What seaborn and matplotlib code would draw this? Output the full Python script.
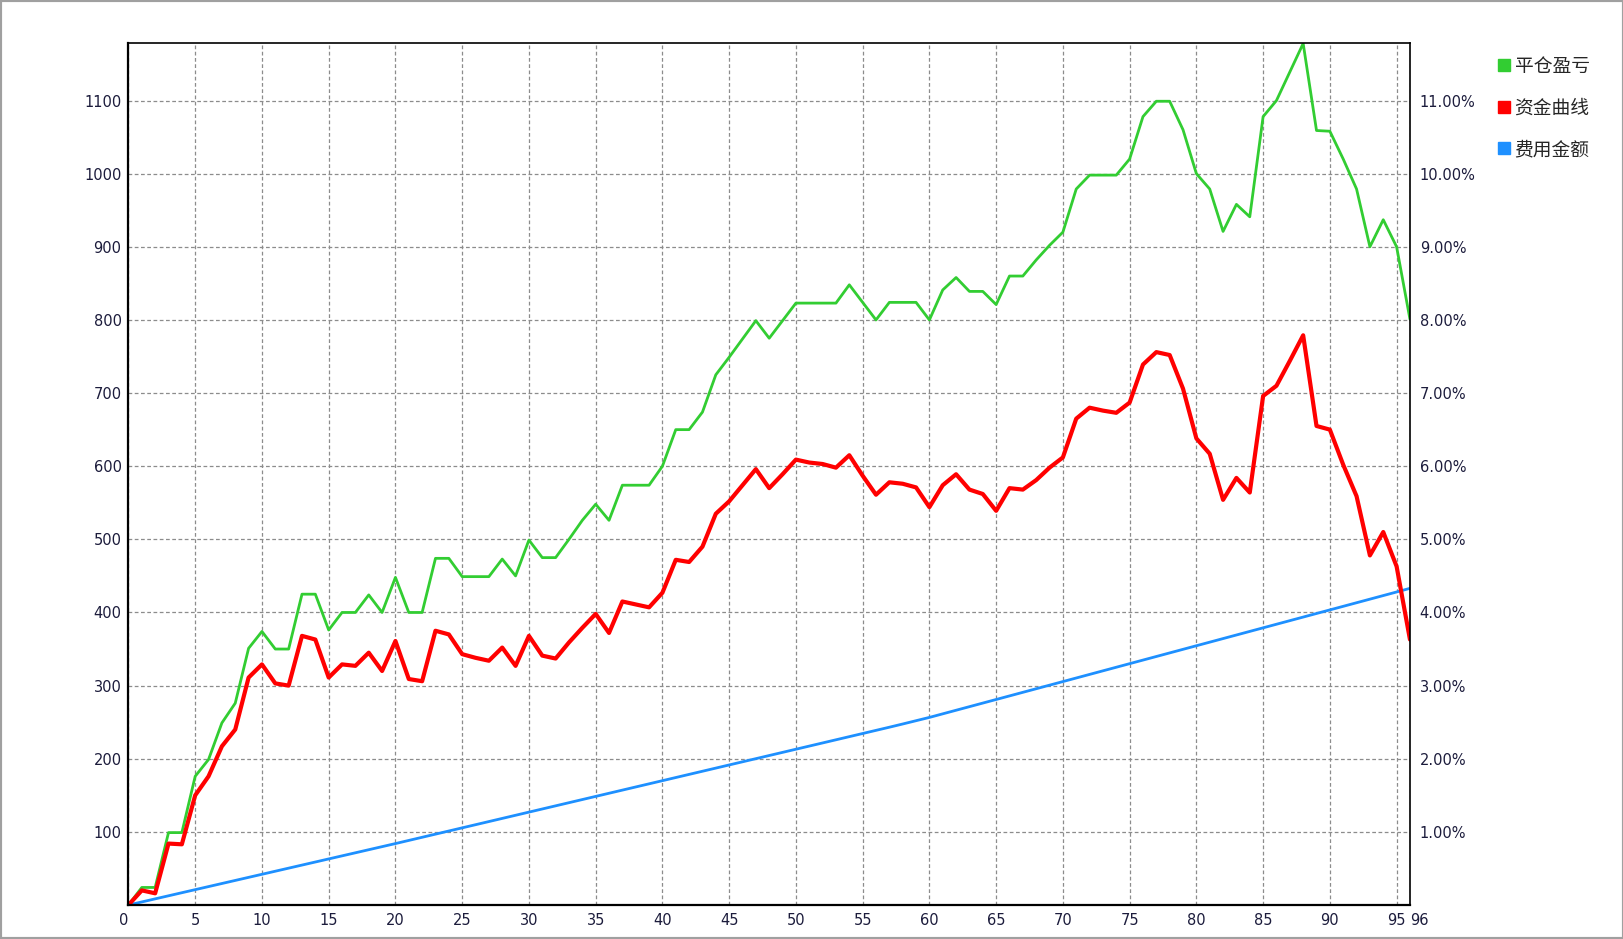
import pandas as pd
import matplotlib
matplotlib.use("Agg")
import matplotlib.pyplot as plt
import seaborn as sns
from matplotlib.lines import Line2D

sns.set_style("white")
plt.rcParams['font.family'] = ['DejaVu Sans', 'Noto Sans CJK SC']

# trade index 0..96
trade_no = list(range(97))

# 平仓盈亏 (green)
close_pnl = [0, 24, 24, 99, 99, 176, 199, 249, 276, 351,
             374, 350, 350, 425, 425, 376, 400, 400, 424, 400,
             448, 400, 400, 474, 474, 449, 449, 449, 473, 450,
             499, 475, 475, 500, 526, 548, 526, 574, 574, 574,
             600, 650, 650, 674, 725, 749, 774, 799, 775, 799,
             823, 823, 823, 823, 848, 824, 800, 824, 824, 824,
             800, 841, 858, 839, 839, 821, 860, 860, 882, 902,
             920, 979, 998, 998, 998, 1020, 1078, 1099, 1099, 1060,
             1000, 979, 921, 958, 941, 1078, 1100, 1139, 1178, 1059,
             1058, 1020, 979, 900, 937, 900, 801]

# 资金曲线 (red)
equity = [0, 20, 16, 84, 83, 150, 176, 217, 240, 311,
          329, 303, 300, 368, 363, 311, 329, 327, 345, 320,
          361, 309, 306, 375, 370, 343, 338, 334, 352, 327,
          368, 341, 337, 359, 379, 398, 372, 415, 411, 407,
          427, 472, 469, 490, 535, 552, 574, 596, 570, 589,
          609, 605, 603, 598, 615, 587, 561, 578, 576, 571,
          544, 574, 589, 568, 562, 539, 570, 568, 581, 598,
          612, 665, 680, 676, 673, 687, 739, 756, 752, 706,
          638, 617, 554, 584, 564, 696, 710, 744, 779, 655,
          650, 602, 559, 478, 510, 463, 363]

# 费用金额 (blue)
fee_total = [0.0, 4.2, 8.4, 12.6, 16.8, 21.0, 25.2, 29.4, 33.6, 37.8,
             42.0, 46.2, 50.4, 54.6, 58.8, 63.0, 67.2, 71.4, 75.6, 79.8,
             84.0, 88.3, 92.6, 96.9, 101.2, 105.5, 109.8, 114.1, 118.4, 122.7,
             127.0, 131.3, 135.6, 139.9, 144.2, 148.5, 152.8, 157.1, 161.4, 165.7,
             170.0, 174.3, 178.6, 182.9, 187.2, 191.5, 195.8, 200.1, 204.4, 208.7,
             213.0, 217.3, 221.6, 225.9, 230.2, 234.5, 238.8, 243.1, 247.5, 252.0,
             256.5, 261.4, 266.3, 271.2, 276.1, 281.0, 285.9, 290.8, 295.7, 300.6,
             305.5, 310.4, 315.3, 320.2, 325.1, 330.0, 334.9, 339.8, 344.7, 349.6,
             354.5, 359.4, 364.3, 369.2, 374.1, 379.0, 383.9, 388.8, 393.7, 398.6,
             403.5, 408.4, 413.3, 418.2, 423.1, 428.0, 433.0]

series_names = ['平仓盈亏', '资金曲线', '费用金额']
colors = {'平仓盈亏': '#32CD32', '资金曲线': '#FF0000', '费用金额': '#1E90FF'}

x_ticks = [0, 5, 10, 15, 20, 25, 30, 35, 40, 45, 50, 55, 60, 65, 70, 75, 80, 85, 90, 95, 96]
y_ticks = [100, 200, 300, 400, 500, 600, 700, 800, 900, 1000, 1100]

df = pd.DataFrame({'trade': trade_no, '平仓盈亏': close_pnl,
                   '资金曲线': equity, '费用金额': fee_total})
long_df = df.melt(id_vars='trade', var_name='series', value_name='value')

fig = plt.figure(figsize=(16.24, 9.39), dpi=100)
ax = fig.add_axes([0.0791, 0.0362, 0.7891, 0.9175])

# draw order: blue, green, red on top
for name, lw in [('费用金额', 2.0), ('平仓盈亏', 2.0), ('资金曲线', 3.0)]:
    sns.lineplot(data=long_df[long_df['series'] == name], x='trade', y='value',
                 color=colors[name], linewidth=lw, ax=ax, legend=False)

ymax = max(close_pnl)
ax.set_xlim(0, 96)
ax.set_ylim(0, ymax)
ax.set_xticks(x_ticks)
ax.set_yticks(y_ticks)
ax.set_xlabel('')
ax.set_ylabel('')

label_color = '#1c1c3c'
ax.tick_params(axis='both', length=0, labelsize=10.5, colors=label_color)
ax.tick_params(axis='x', pad=6)
ax.tick_params(axis='y', pad=5)

# first label sits left of the axis, last one right of its tick
xlabels = ax.get_xticklabels()
xlabels[0].set_horizontalalignment('right')
xlabels[-1].set_horizontalalignment('left')

ax.grid(True, linestyle=(0, (3, 2)), color='#8c8c8c', linewidth=0.9)
ax.set_axisbelow(True)

for side, sp in ax.spines.items():
    sp.set_color('black')
    sp.set_linewidth(1.6 if side in ('left', 'bottom') else 1.2)

# right axis in percent
ax2 = ax.twinx()
ax2.set_ylim(0, ymax)
ax2.set_yticks(y_ticks)
ax2.set_yticklabels([f"{v / 100:.2f}%" for v in y_ticks])
ax2.tick_params(axis='y', length=0, labelsize=10.5, colors=label_color, pad=7)
ax2.grid(False)
for sp in ax2.spines.values():
    sp.set_visible(False)

handles = [Line2D([], [], marker='s', color=colors[n], linestyle='None', markersize=9)
           for n in series_names]
fig.legend(handles, series_names, loc='upper left',
           bbox_to_anchor=(1478 / 1624, 1 - 40 / 939), frameon=False,
           fontsize=13.5, handletextpad=0.05, labelspacing=1.2, handlelength=1.0)

# window frame
fig.add_artist(plt.Rectangle((0, 0), 1, 1, transform=fig.transFigure, fill=False,
                             edgecolor='#a0a0a0', linewidth=3))

fig.savefig('out.png', dpi=100)
